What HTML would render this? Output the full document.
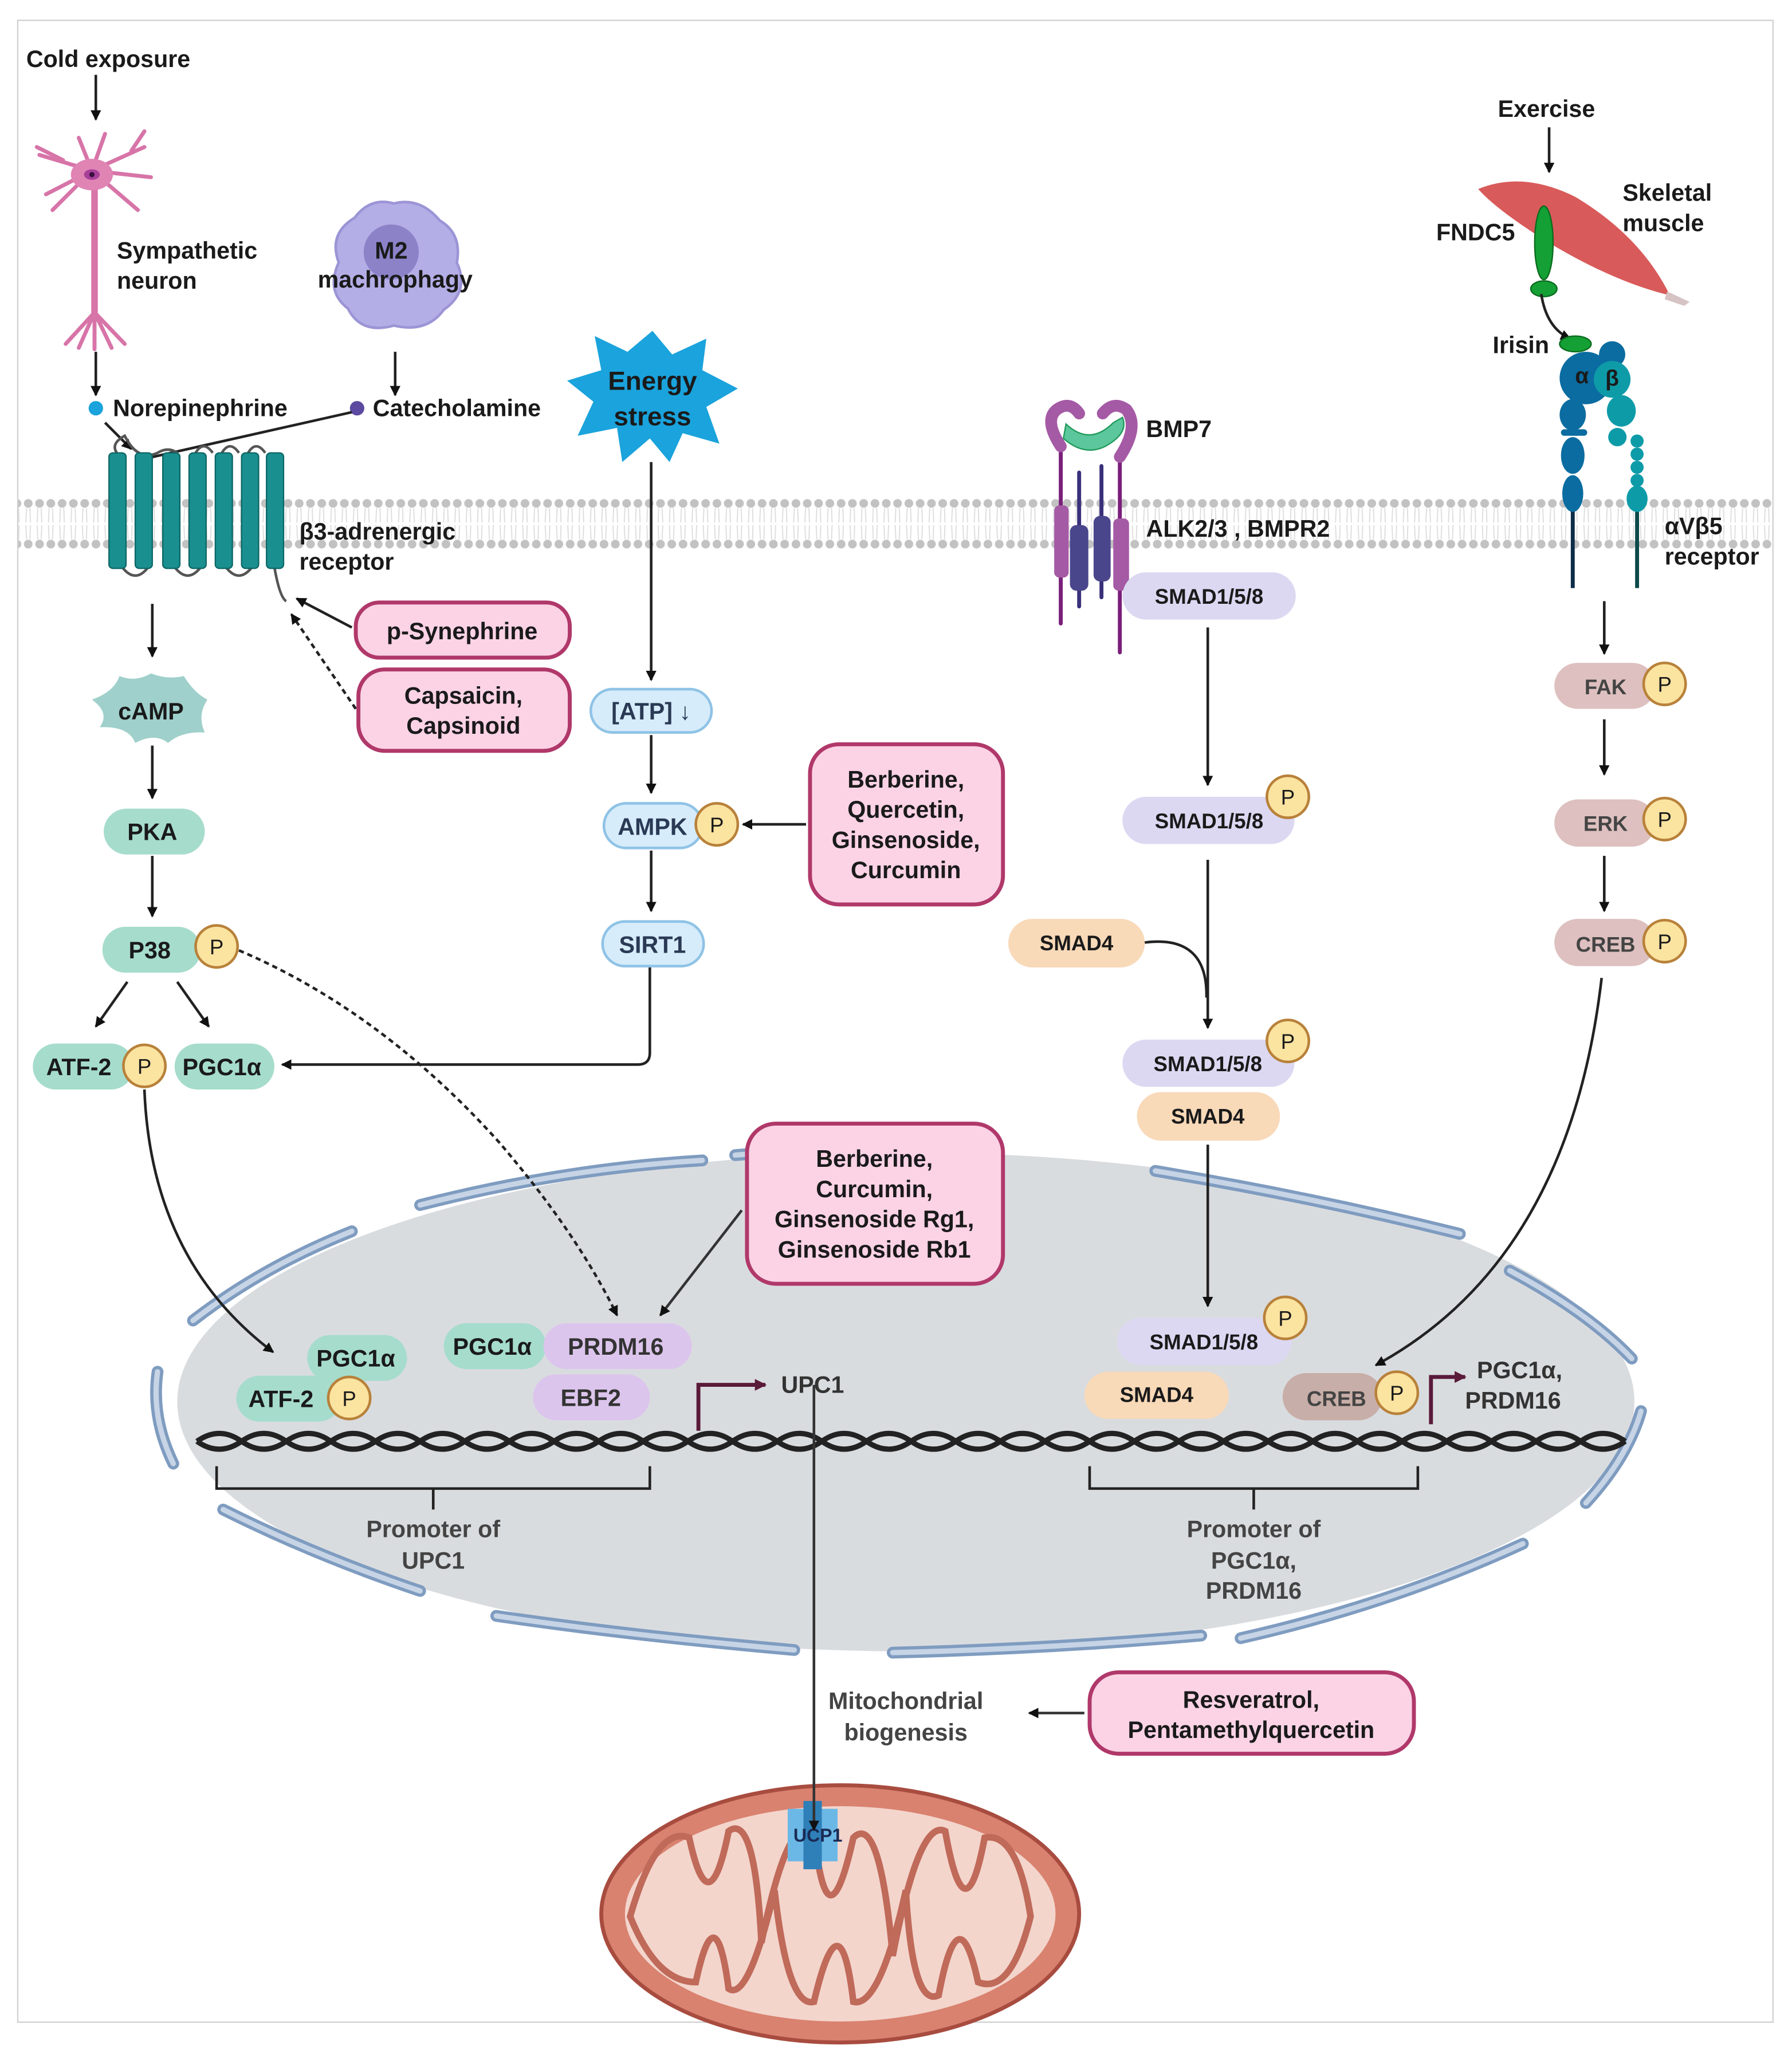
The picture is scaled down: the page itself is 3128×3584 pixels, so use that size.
<!DOCTYPE html>
<html><head><meta charset="utf-8"><style>
html,body{margin:0;padding:0;background:#fff;}
svg{display:block;}
text{font-family:"Liberation Sans",sans-serif;font-weight:bold;fill:#1a1a1a;}
</style></head><body>
<svg width="3128" height="3584" viewBox="0 0 1365 1564" xmlns="http://www.w3.org/2000/svg">
<defs>
<marker id="ar" markerWidth="8" markerHeight="8" refX="7" refY="4" orient="auto" markerUnits="userSpaceOnUse"><path d="M0,0 L8,4 L0,8 Z" fill="#111"/></marker>
<marker id="arp" markerWidth="9" markerHeight="9" refX="8" refY="4.5" orient="auto" markerUnits="userSpaceOnUse"><path d="M0,0 L9,4.5 L0,9 Z" fill="#5a1a3a"/></marker>
<pattern id="mem" x="0" y="380" width="8.6" height="38" patternUnits="userSpaceOnUse">
<circle cx="4.3" cy="3.5" r="3.3" fill="#c2c2c2"/>
<circle cx="4.3" cy="34.5" r="3.3" fill="#c2c2c2"/>
<path d="M3,7 L2.5,18 M5.6,7 L6,18 M3,31 L2.5,20 M5.6,31 L6,20" stroke="#dcdcdc" stroke-width="0.8"/>
</pattern>
</defs>
<rect x="13.5" y="15.5" width="1337" height="1525" fill="#fff" stroke="#d0d0d0" stroke-width="1"/>

<rect x="14" y="380" width="1336" height="38" fill="url(#mem)"/>

<ellipse cx="690" cy="1068" rx="555" ry="190" fill="#d9dcdf"/>
<g fill="none" stroke="#7f9cc0" stroke-width="9" stroke-linecap="round">
<path d="M320,918 Q430,890 535,884"/>
<path d="M560,880 Q650,872 760,875"/>
<path d="M880,892 Q1000,912 1112,940"/>
<path d="M1150,968 Q1210,1000 1243,1035"/>
<path d="M1250,1075 Q1240,1110 1208,1145"/>
<path d="M1160,1176 Q1060,1222 945,1248"/>
<path d="M915,1246 Q800,1256 680,1259"/>
<path d="M605,1257 Q480,1246 378,1231"/>
<path d="M320,1212 Q240,1185 170,1150"/>
<path d="M132,1115 Q115,1080 120,1045"/>
<path d="M147,1006 Q200,965 268,938"/>
</g>
<g fill="none" stroke="#c6d4e6" stroke-width="4" stroke-linecap="round">
<path d="M320,918 Q430,890 535,884"/>
<path d="M560,880 Q650,872 760,875"/>
<path d="M880,892 Q1000,912 1112,940"/>
<path d="M1150,968 Q1210,1000 1243,1035"/>
<path d="M1250,1075 Q1240,1110 1208,1145"/>
<path d="M1160,1176 Q1060,1222 945,1248"/>
<path d="M915,1246 Q800,1256 680,1259"/>
<path d="M605,1257 Q480,1246 378,1231"/>
<path d="M320,1212 Q240,1185 170,1150"/>
<path d="M132,1115 Q115,1080 120,1045"/>
<path d="M147,1006 Q200,965 268,938"/>
</g>

<g fill="none" stroke="#222" stroke-width="4">
<path d="M150,1098 q17,-12 34,0 t34,0 t34,0 t34,0 t34,0 t34,0 t34,0 t34,0 t34,0 t34,0 t34,0 t34,0 t34,0 t34,0 t34,0 t34,0 t34,0 t34,0 t34,0 t34,0 t34,0 t34,0 t34,0 t34,0 t34,0 t34,0 t34,0 t34,0 t34,0 t34,0 t34,0 t34,0"/>
<path d="M150,1098 q17,12 34,0 t34,0 t34,0 t34,0 t34,0 t34,0 t34,0 t34,0 t34,0 t34,0 t34,0 t34,0 t34,0 t34,0 t34,0 t34,0 t34,0 t34,0 t34,0 t34,0 t34,0 t34,0 t34,0 t34,0 t34,0 t34,0 t34,0 t34,0 t34,0 t34,0 t34,0 t34,0"/>
</g>

<g fill="none" stroke="#222" stroke-width="2">
<path d="M165,1117 V1134 H495 V1117 M330,1134 V1150"/>
<path d="M830,1117 V1134 H1080 V1117 M955,1134 V1150"/>
</g>
<g text-anchor="middle" font-size="18">
<text x="330" y="1171" style="fill:#444">Promoter of</text>
<text x="330" y="1195" style="fill:#444">UPC1</text>
<text x="955" y="1171" style="fill:#444">Promoter of</text>
<text x="955" y="1195" style="fill:#444">PGC1α,</text>
<text x="955" y="1218" style="fill:#444">PRDM16</text>
</g>

<path d="M532,1090 V1055 H583" fill="none" stroke="#5a1a3a" stroke-width="3" marker-end="url(#arp)"/>
<text x="595" y="1061" font-size="18" style="fill:#333">UPC1</text>
<path d="M1090,1085 V1049 H1116" fill="none" stroke="#5a1a3a" stroke-width="3" marker-end="url(#arp)"/>
<text x="1125" y="1050" font-size="18" style="fill:#333">PGC1α,</text>
<text x="1116" y="1073" font-size="18" style="fill:#333">PRDM16</text>

<ellipse cx="640" cy="1458" rx="182" ry="98" fill="#d9826f" stroke="#a84c40" stroke-width="3"/>
<ellipse cx="640" cy="1458" rx="164" ry="82" fill="#f3d5cc"/>
<path d="M480,1460 Q500,1390 525,1400 Q540,1470 555,1395 Q575,1380 580,1480 Q600,1380 620,1395 Q630,1490 650,1400 Q670,1380 680,1490 Q700,1385 720,1395 Q735,1480 750,1400 Q775,1395 785,1460 Q770,1520 745,1510 Q730,1440 715,1520 Q695,1530 690,1440 Q670,1530 650,1525 Q640,1440 620,1525 Q600,1530 590,1440 Q570,1525 555,1515 Q545,1440 530,1510 Q500,1510 480,1460 Z" fill="none" stroke="#c06a5a" stroke-width="5"/>
<path d="M600,1378 h38 v40 h-38 z" fill="#6bb8e6"/>
<rect x="612" y="1372" width="14" height="52" fill="#2f7fb8"/>
<text x="623" y="1403" font-size="14" text-anchor="middle" style="fill:#1a2b55">UCP1</text>

<line x1="620" y1="1055" x2="620" y2="1394" stroke="#333" stroke-width="2" marker-end="url(#ar)"/>
<text x="690" y="1302" font-size="18" text-anchor="middle" style="fill:#444">Mitochondrial</text>
<text x="690" y="1326" font-size="18" text-anchor="middle" style="fill:#444">biogenesis</text>
<line x1="826" y1="1305" x2="784" y2="1305" stroke="#333" stroke-width="2" marker-end="url(#ar)"/>

<text x="20" y="51" font-size="18">Cold exposure</text>
<line x1="73" y1="57" x2="73" y2="91" stroke="#222" stroke-width="2" marker-end="url(#ar)"/>
<g stroke="#d774a8" stroke-width="3" fill="none" stroke-linecap="round">
<path d="M70,130 L30,118 M70,130 L35,148 M70,130 L40,160 M70,130 L60,105 M70,130 L80,102 M70,130 L110,112 M70,130 L115,135 M70,130 L105,160 M48,122 L28,112 M100,115 L110,100"/>
<path d="M72,140 L72,238" stroke-width="5"/>
<path d="M72,238 L50,262 M72,238 L95,262 M72,238 L60,265 M72,238 L85,265 M72,238 L72,266"/>
</g>
<ellipse cx="70" cy="133" rx="16" ry="12" fill="#e084b4"/>
<ellipse cx="70" cy="133" rx="6" ry="4" fill="#a8409a"/>
<circle cx="70" cy="133" r="2" fill="#3a1040"/>
<text x="89" y="197" font-size="18">Sympathetic</text>
<text x="89" y="220" font-size="18">neuron</text>
<line x1="73" y1="268" x2="73" y2="301" stroke="#222" stroke-width="2" marker-end="url(#ar)"/>
<circle cx="73" cy="311" r="5.5" fill="#1aa3dc"/>
<text x="86" y="317" font-size="18">Norepinephrine</text>

<path d="M300,155 Q320,150 335,168 Q352,178 348,200 Q358,222 338,236 Q325,254 300,248 Q275,255 265,235 Q248,222 258,200 Q250,178 270,166 Q282,150 300,155 Z" fill="#b3aee6" stroke="#9b95d6" stroke-width="2"/>
<circle cx="298" cy="192" r="21" fill="#8b82c8"/>
<text x="298" y="197" font-size="18" text-anchor="middle">M2</text>
<text x="301" y="219" font-size="18" text-anchor="middle">machrophagy</text>
<line x1="301" y1="268" x2="301" y2="301" stroke="#222" stroke-width="2" marker-end="url(#ar)"/>
<circle cx="272" cy="311" r="5.5" fill="#5c4aa0"/>
<text x="284" y="317" font-size="18">Catecholamine</text>
<line x1="268" y1="314" x2="108" y2="350" stroke="#222" stroke-width="2" marker-end="url(#ar)"/>
<line x1="80" y1="322" x2="100" y2="342" stroke="#222" stroke-width="2" marker-end="url(#ar)"/>

<g fill="none" stroke="#555" stroke-width="2">
<path d="M89,345 Q84,338 95,332 Q105,352 120,345 Q128,340 135,345 M149,345 Q155,335 162,345 M169,345 Q175,335 182,345 M189,345 Q195,335 202,345"/>
<path d="M93,432 Q103,445 113,432 M133,432 Q143,445 153,432 M172,432 Q182,445 192,432 M209,432 Q213,455 218,458"/>
</g>
<g fill="#1a8f8f" stroke="#0d6666" stroke-width="1">
<rect x="83" y="345" width="13" height="88" rx="3"/>
<rect x="103" y="345" width="13" height="88" rx="3"/>
<rect x="124" y="345" width="13" height="88" rx="3"/>
<rect x="144" y="345" width="13" height="88" rx="3"/>
<rect x="164" y="345" width="13" height="88" rx="3"/>
<rect x="184" y="345" width="13" height="88" rx="3"/>
<rect x="203" y="345" width="13" height="88" rx="3"/>
</g>
<text x="228" y="411" font-size="18">β3-adrenergic</text>
<text x="228" y="434" font-size="18">receptor</text>

<g fill="#fbd3e5" stroke="#b0386a" stroke-width="3">
<rect x="271" y="459" width="163" height="42" rx="18"/>
<rect x="273" y="510" width="161" height="62" rx="20"/>
<rect x="617" y="567" width="147" height="122" rx="22"/>
<rect x="569" y="856" width="195" height="122" rx="22"/>
<rect x="830" y="1274" width="247" height="62" rx="22"/>
</g>
<g font-size="18" text-anchor="middle">
<text x="352" y="487">p-Synephrine</text>
<text x="353" y="536">Capsaicin,</text>
<text x="353" y="559">Capsinoid</text>
<text x="690" y="600">Berberine,</text>
<text x="690" y="623">Quercetin,</text>
<text x="690" y="646">Ginsenoside,</text>
<text x="690" y="669">Curcumin</text>
<text x="666" y="889">Berberine,</text>
<text x="666" y="912">Curcumin,</text>
<text x="666" y="935">Ginsenoside Rg1,</text>
<text x="666" y="958">Ginsenoside Rb1</text>
<text x="953" y="1301">Resveratrol,</text>
<text x="953" y="1324">Pentamethylquercetin</text>
</g>
<line x1="268" y1="478" x2="226" y2="456" stroke="#222" stroke-width="2" marker-end="url(#ar)"/>
<line x1="271" y1="540" x2="222" y2="468" stroke="#222" stroke-width="2" stroke-dasharray="4,3" marker-end="url(#ar)"/>

<line x1="116" y1="460" x2="116" y2="500" stroke="#222" stroke-width="2" marker-end="url(#ar)"/>
<path d="M115,513 Q128,518 140,515 Q148,528 158,533 Q150,545 156,558 Q138,557 128,566 Q118,558 103,566 Q98,553 76,554 Q84,543 70,533 Q87,527 91,515 Q103,520 115,513 Z" fill="#9fd0cb"/>
<text x="115" y="548" font-size="18" text-anchor="middle">cAMP</text>
<line x1="116" y1="568" x2="116" y2="608" stroke="#222" stroke-width="2" marker-end="url(#ar)"/>
<g fill="#a6dccc">
<rect x="79" y="616" width="77" height="35" rx="17.5"/>
<rect x="78" y="706" width="75" height="35" rx="17.5"/>
<rect x="25" y="795" width="77" height="35" rx="17.5"/>
<rect x="133" y="795" width="76" height="35" rx="17.5"/>
<rect x="234" y="1017" width="76" height="35" rx="17.5"/>
<rect x="180" y="1048" width="80" height="35" rx="17.5"/>
<rect x="338" y="1008" width="78" height="35" rx="17.5"/>
</g>
<g font-size="18" text-anchor="middle">
<text x="116" y="640">PKA</text>
<text x="114" y="730">P38</text>
<text x="60" y="819">ATF-2</text>
<text x="169" y="819">PGC1α</text>
<text x="271" y="1041">PGC1α</text>
<text x="214" y="1072">ATF-2</text>
<text x="375" y="1032">PGC1α</text>
</g>
<line x1="116" y1="652" x2="116" y2="698" stroke="#222" stroke-width="2" marker-end="url(#ar)"/>
<line x1="97" y1="748" x2="73" y2="782" stroke="#222" stroke-width="2" marker-end="url(#ar)"/>
<line x1="135" y1="748" x2="159" y2="782" stroke="#222" stroke-width="2" marker-end="url(#ar)"/>
<path d="M110,830 Q115,960 208,1030" fill="none" stroke="#222" stroke-width="2" marker-end="url(#ar)"/>
<path d="M182,724 Q290,770 380,870 Q440,940 470,1002" fill="none" stroke="#222" stroke-width="2" stroke-dasharray="4,3" marker-end="url(#ar)"/>

<rect x="414" y="1008" width="113" height="35" rx="17.5" fill="#dcc5ec"/>
<rect x="406" y="1047" width="89" height="35" rx="17.5" fill="#dcc5ec"/>
<text x="469" y="1032" font-size="18" text-anchor="middle" style="fill:#333">PRDM16</text>
<text x="450" y="1071" font-size="18" text-anchor="middle" style="fill:#333">EBF2</text>
<line x1="565" y1="922" x2="503" y2="1002" stroke="#333" stroke-width="2" marker-end="url(#ar)"/>

<path d="M497,252 L512,270 L538,258 L535,282 L562,296 L538,310 L548,338 L520,330 L510,352 L495,334 L474,352 L470,326 L440,332 L452,306 L432,290 L458,282 L453,256 L478,268 Z" fill="#1aa3dc"/>
<text x="497" y="297" font-size="20" text-anchor="middle">Energy</text>
<text x="497" y="324" font-size="20" text-anchor="middle">stress</text>
<line x1="496" y1="352" x2="496" y2="518" stroke="#222" stroke-width="2" marker-end="url(#ar)"/>
<g fill="#d6ecfa" stroke="#8fc3e6" stroke-width="2">
<rect x="450" y="525" width="92" height="33" rx="16.5"/>
<rect x="460" y="612" width="75" height="34" rx="17"/>
<rect x="459" y="702" width="77" height="34" rx="17"/>
</g>
<g font-size="18" text-anchor="middle">
<text x="496" y="548" style="fill:#2a3a55">[ATP] ↓</text>
<text x="497" y="636" style="fill:#2a3a55">AMPK</text>
<text x="497" y="726" style="fill:#2a3a55">SIRT1</text>
</g>
<line x1="496" y1="560" x2="496" y2="604" stroke="#222" stroke-width="2" marker-end="url(#ar)"/>
<line x1="496" y1="648" x2="496" y2="694" stroke="#222" stroke-width="2" marker-end="url(#ar)"/>
<line x1="614" y1="628" x2="566" y2="628" stroke="#222" stroke-width="2" marker-end="url(#ar)"/>
<path d="M495,737 V802 Q495,811 486,811 H215" fill="none" stroke="#222" stroke-width="2" marker-end="url(#ar)"/>

<g stroke-linecap="round" fill="none">
<path d="M808,340 V475 M853,350 V497" stroke="#7a1f7a" stroke-width="3"/>
<path d="M822,360 V462 M839,355 V455" stroke="#38307a" stroke-width="3"/>
<path d="M808,340 Q795,320 805,312 Q815,305 822,315" stroke="#a55aa5" stroke-width="9"/>
<path d="M853,348 Q868,325 858,312 Q848,305 840,315" stroke="#a55aa5" stroke-width="9"/>
</g>
<path d="M812,323 Q830,340 848,322 L855,318 Q860,330 842,340 Q826,348 810,334 Z" fill="#5cc69c" stroke="#1f9a5a"/>
<g fill="#a55aa5"><rect x="803" y="385" width="11" height="55" rx="4"/><rect x="848" y="395" width="12" height="55" rx="4"/></g>
<g fill="#4a468c"><rect x="815" y="400" width="14" height="50" rx="5"/><rect x="833" y="393" width="13" height="50" rx="5"/></g>
<text x="873" y="333" font-size="18">BMP7</text>
<text x="873" y="409" font-size="18">ALK2/3 , BMPR2</text>

<g fill="#dcd8f2">
<rect x="855" y="436" width="132" height="36" rx="18"/>
<rect x="855" y="607" width="131" height="36" rx="18"/>
<rect x="855" y="792" width="131" height="36" rx="18"/>
<rect x="851" y="1004" width="133" height="36" rx="18"/>
</g>
<g fill="#f8d9b8">
<rect x="768" y="700" width="104" height="37" rx="18.5"/>
<rect x="866" y="832" width="109" height="37" rx="18.5"/>
<rect x="826" y="1045" width="110" height="36" rx="18"/>
</g>
<g font-size="16" text-anchor="middle">
<text x="921" y="460">SMAD1/5/8</text>
<text x="921" y="631">SMAD1/5/8</text>
<text x="820" y="724">SMAD4</text>
<text x="920" y="816">SMAD1/5/8</text>
<text x="920" y="856">SMAD4</text>
<text x="917" y="1028">SMAD1/5/8</text>
<text x="881" y="1068">SMAD4</text>
</g>
<line x1="920" y1="478" x2="920" y2="598" stroke="#222" stroke-width="2" marker-end="url(#ar)"/>
<line x1="920" y1="655" x2="920" y2="783" stroke="#222" stroke-width="2" marker-end="url(#ar)"/>
<path d="M872,718 Q920,712 919,760" fill="none" stroke="#222" stroke-width="2"/>
<line x1="920" y1="872" x2="920" y2="995" stroke="#222" stroke-width="2" marker-end="url(#ar)"/>

<text x="1178" y="89" font-size="18" text-anchor="middle">Exercise</text>
<line x1="1180" y1="97" x2="1180" y2="131" stroke="#222" stroke-width="2" marker-end="url(#ar)"/>
<path d="M1126,144 Q1160,130 1200,150 Q1250,180 1272,225 Q1230,215 1180,185 Q1140,160 1126,144 Z" fill="#d95a5a"/>
<path d="M1270,222 L1287,230 L1283,233 L1268,228 Z" fill="#d6c3c3"/>
<text x="1236" y="153" font-size="18">Skeletal</text>
<text x="1236" y="176" font-size="18">muscle</text>
<text x="1094" y="183" font-size="18">FNDC5</text>
<ellipse cx="1176" cy="185" rx="7" ry="28" fill="#14a034" stroke="#0b6a1f"/>
<ellipse cx="1176" cy="220" rx="10" ry="6" fill="#14a034" stroke="#0b6a1f"/>
<path d="M1174,224 Q1178,250 1196,258" fill="none" stroke="#222" stroke-width="2" marker-end="url(#ar)"/>
<ellipse cx="1200" cy="262" rx="12" ry="6" fill="#14a034" stroke="#0b6a1f"/>
<text x="1137" y="269" font-size="18">Irisin</text>
<line x1="1198" y1="380" x2="1198" y2="448" stroke="#0d2c48" stroke-width="3"/>
<line x1="1247" y1="380" x2="1247" y2="448" stroke="#0d4a4a" stroke-width="3"/>
<g fill="#0a6ca0">
<circle cx="1208" cy="288" r="20"/><circle cx="1228" cy="270" r="10"/>
<ellipse cx="1198" cy="316" rx="10" ry="12"/><rect x="1189" y="327" width="20" height="5" rx="2.5"/>
<ellipse cx="1198" cy="347" rx="9" ry="14"/><ellipse cx="1198" cy="376" rx="8" ry="14"/>
</g>
<g fill="#0e9ba8">
<circle cx="1228" cy="289" r="14"/><ellipse cx="1235" cy="313" rx="11" ry="12"/>
<circle cx="1232" cy="333" r="7"/><circle cx="1247" cy="336" r="5"/><circle cx="1247" cy="346" r="5"/><circle cx="1247" cy="356" r="5"/><circle cx="1247" cy="366" r="5"/><ellipse cx="1247" cy="380" rx="8" ry="10"/>
</g>
<text x="1205" y="292" font-size="17" text-anchor="middle">α</text>
<text x="1228" y="294" font-size="17" text-anchor="middle">β</text>
<text x="1268" y="407" font-size="18">αVβ5</text>
<text x="1268" y="430" font-size="18">receptor</text>

<line x1="1222" y1="458" x2="1222" y2="498" stroke="#222" stroke-width="2" marker-end="url(#ar)"/>
<g fill="#ddc0bf">
<rect x="1184" y="505" width="77" height="35" rx="17.5"/>
<rect x="1184" y="609" width="77" height="36" rx="18"/>
<rect x="1184" y="700" width="77" height="36" rx="18"/>
</g>
<rect x="977" y="1046" width="76" height="36" rx="18" fill="#c8aea8"/>
<g font-size="16" text-anchor="middle">
<text x="1223" y="529" style="fill:#444">FAK</text>
<text x="1223" y="633" style="fill:#444">ERK</text>
<text x="1223" y="725" style="fill:#444">CREB</text>
<text x="1018" y="1071" style="fill:#444">CREB</text>
</g>
<line x1="1222" y1="548" x2="1222" y2="590" stroke="#222" stroke-width="2" marker-end="url(#ar)"/>
<line x1="1222" y1="652" x2="1222" y2="694" stroke="#222" stroke-width="2" marker-end="url(#ar)"/>
<path d="M1220,745 Q1195,960 1048,1040" fill="none" stroke="#222" stroke-width="2" marker-end="url(#ar)"/>

<g fill="#fbe3a0" stroke="#b8813a" stroke-width="2">
<circle cx="165" cy="721" r="16"/><circle cx="110" cy="812" r="16"/><circle cx="266" cy="1065" r="16"/>
<circle cx="546" cy="628" r="16"/>
<circle cx="981" cy="607" r="16"/><circle cx="981" cy="793" r="16"/><circle cx="979" cy="1004" r="16"/>
<circle cx="1064" cy="1061" r="16"/>
<circle cx="1268" cy="521" r="16"/><circle cx="1268" cy="624" r="16"/><circle cx="1268" cy="717" r="16"/>
</g>
<g font-size="16" text-anchor="middle">
<text x="165" y="727" style="font-weight:normal">P</text><text x="110" y="818" style="font-weight:normal">P</text><text x="266" y="1071" style="font-weight:normal">P</text>
<text x="546" y="634" style="font-weight:normal">P</text>
<text x="981" y="613" style="font-weight:normal">P</text><text x="981" y="799" style="font-weight:normal">P</text><text x="979" y="1010" style="font-weight:normal">P</text>
<text x="1064" y="1067" style="font-weight:normal">P</text>
<text x="1268" y="527" style="font-weight:normal">P</text><text x="1268" y="630" style="font-weight:normal">P</text><text x="1268" y="723" style="font-weight:normal">P</text>
</g>
</svg>
</body></html>
